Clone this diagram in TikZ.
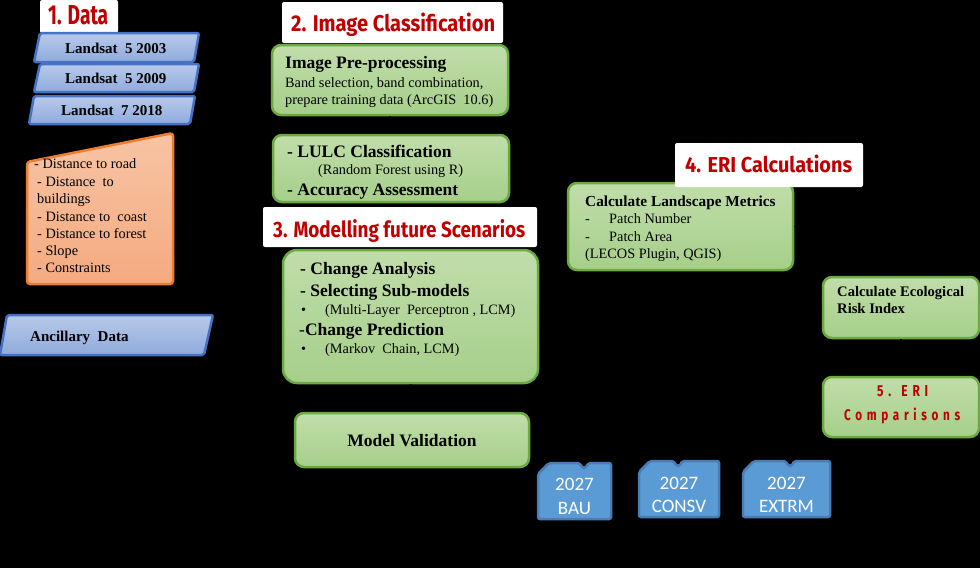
\documentclass[tikz,border=0pt]{standalone}
\usepackage{fontspec}
\setmainfont{Liberation Serif}
\newfontfamily\titlefont{Fira Sans}
\newfontfamily\cardfont{Carlito}
\usetikzlibrary{arrows.meta}
\definecolor{ttlred}{HTML}{C00000}
\definecolor{grfill}{HTML}{A6CF8A}
\definecolor{grtop}{HTML}{C0DDAA}
\definecolor{grline}{HTML}{6AAA40}
\definecolor{blfilltop}{HTML}{B8CAEA}
\definecolor{blfillbot}{HTML}{8FAADC}
\definecolor{blline}{HTML}{4472C4}
\definecolor{orfilltop}{HTML}{F7C4A4}
\definecolor{orfillbot}{HTML}{F4AA80}
\definecolor{orline}{HTML}{ED7D31}
\definecolor{cdfill}{HTML}{5B9BD5}
\definecolor{cdline}{HTML}{4A7DB5}
\newcommand{\ttlfit}[3]{\resizebox{#1pt}{#2pt}{\titlefont\bfseries #3}}
\begin{document}
\begin{tikzpicture}[x=1pt,y=-1pt,
  greenbox/.style={draw=grline, line width=2.5pt, rounded corners=9pt, top color=grtop, bottom color=grfill, inner sep=0pt},
  titlebox/.style={fill=white, rounded corners=2pt, inner sep=0pt},
  ttltext/.style={text=ttlred, inner sep=0pt, anchor=base west},
  bodytext/.style={inner sep=0pt, anchor=base west, font=\fontsize{14.3}{16}\selectfont},
  headtext/.style={inner sep=0pt, anchor=base west, font=\fontsize{17.5}{19}\selectfont\bfseries},
  landsat/.style={draw=blline, line width=2.5pt, rounded corners=2pt, top color=blfilltop, bottom color=blfillbot},
  landtext/.style={inner sep=0pt, anchor=base west, font=\fontsize{15}{17}\selectfont\bfseries},
  ancbox/.style={draw=orline, line width=2.5pt, rounded corners=3pt, top color=orfilltop, bottom color=orfillbot},
  card/.style={draw=cdline, line width=2.5pt, fill=cdfill, rounded corners=2pt},
  cardtext/.style={inner sep=0pt, anchor=base, text=white, font=\cardfont\fontsize{19}{22}\selectfont},
  conn/.style={draw=black, line width=1.5pt, -{Stealth[length=6pt]}}
]
\useasboundingbox (0,0) rectangle (980,568);
\fill[black] (0,0) rectangle (980,568);

% ---------- 1. Data ----------
\node[titlebox, minimum width=78, minimum height=33] (t1box) at (79,16.5) {};
\node[ttltext] (t1) at (48,24) {\ttlfit{60}{19}{1. Data}};

\path[landsat] (40,33) -- (199,33) -- (194,62) -- (34,62) -- cycle;
\node[landtext] (ls1) at (65,53) {Landsat\ \ 5 2003};
\path[landsat] (40,64) -- (199,64) -- (194,92) -- (34,92) -- cycle;
\node[landtext] (ls2) at (65,83) {Landsat\ \ 5 2009};
\path[landsat] (34,96) -- (195,96) -- (190,124) -- (29,124) -- cycle;
\node[landtext] (ls3) at (61,115) {Landsat\ \ 7 2018};

\path[ancbox] (27,162) -- (173,133) -- (173,284) -- (27,284) -- cycle;
\node[bodytext] (o1) at (34,168) {- Distance to road};
\node[bodytext] (o2) at (37,186) {- Distance\ \ to};
\node[bodytext] (o3) at (37,203) {buildings};
\node[bodytext] (o4) at (37,221) {- Distance to\ \ coast};
\node[bodytext] (o5) at (37,238) {- Distance to forest};
\node[bodytext] (o6) at (37,255) {- Slope};
\node[bodytext] (o7) at (37,272) {- Constraints};

\path[landsat] (7,315) -- (213,315) -- (204,355) -- (0,355) -- cycle;
\node[landtext] (anc) at (30,341) {Ancillary\ \ Data};

% ---------- 2. Image Classification ----------
\node[greenbox, minimum width=236, minimum height=70] (pre) at (390,80) {};
\node[headtext] (pre1) at (285,68) {Image Pre-processing};
\node[bodytext] (pre2) at (285,87) {Band selection, band combination,};
\node[bodytext] (pre3) at (285,104) {prepare training data (ArcGIS\ \ 10.6)};

\node[greenbox, minimum width=236, minimum height=67] (lulc) at (391,168.5) {};
\node[headtext] (lulc1) at (287,157) {- LULC Classification};
\node[bodytext] (lulc2) at (318,174) {(Random Forest using R)};
\node[headtext] (lulc3) at (287,195) {- Accuracy Assessment};

\node[titlebox, minimum width=221, minimum height=41] (t2box) at (392.5,22.5) {};
\node[ttltext] (t2) at (291,31) {\ttlfit{204}{18.5}{2. Image Classification}};

% ---------- 3. Modelling ----------
\node[greenbox, minimum width=255, minimum height=133, rounded corners=14pt] (mod) at (410.5,316.5) {};
\node[headtext] (mod1) at (300,274) {- Change Analysis};
\node[headtext] (mod2) at (300,296) {- Selecting Sub-models};
\node[bodytext] (mod3a) at (301,314) {\textbullet};
\node[bodytext] (mod3) at (325,314) {(Multi-Layer\ \ Perceptron , LCM)};
\node[headtext] (mod4) at (299,335) {\mdseries-\bfseries Change Prediction};
\node[bodytext] (mod5a) at (301,353) {\textbullet};
\node[bodytext] (mod5) at (325,353) {(Markov\ \ Chain, LCM)};

\node[greenbox, minimum width=234, minimum height=54] (val) at (412,440) {};
\node[headtext, anchor=base] (val1) at (412,446) {Model Validation};

\node[titlebox, minimum width=274, minimum height=40] (t3box) at (400,227) {};
\node[ttltext] (t3) at (273,237) {\ttlfit{252}{18}{3. Modelling future Scenarios}};

% ---------- 4. ERI ----------
\node[greenbox, minimum width=225, minimum height=87] (met) at (680.5,226.5) {};
\node[headtext, font=\fontsize{15.3}{17}\selectfont\bfseries] (met1) at (585,206) {Calculate Landscape Metrics};
\node[bodytext] (met2a) at (585,223) {-};
\node[bodytext] (met2) at (609,223) {Patch Number};
\node[bodytext] (met3a) at (585,241) {-};
\node[bodytext] (met3) at (609,241) {Patch Area};
\node[bodytext] (met4) at (585,258) {(LECOS Plugin, QGIS)};

\node[titlebox, minimum width=188, minimum height=44] (t4box) at (769,165) {};
\node[ttltext] (t4) at (685,172) {\ttlfit{167}{17.5}{4. ERI Calculations}};

\node[greenbox, minimum width=156, minimum height=61] (eri) at (901,307.5) {};
\node[headtext, font=\fontsize{14.6}{16}\selectfont\bfseries] (eri1) at (837,296) {Calculate Ecological};
\node[headtext, font=\fontsize{14.6}{16}\selectfont\bfseries] (eri2) at (837,313) {Risk Index};

\node[greenbox, minimum width=156, minimum height=60] (comp) at (901,407) {};
\node[ttltext] (comp1) at (877,396) {\ttlfit{51}{11}{\addfontfeature{LetterSpace=40}5. ERI}};
\node[ttltext] (comp2) at (844,420) {\ttlfit{116}{12.5}{\addfontfeature{LetterSpace=40}Comparisons}};

% ---------- scenario cards ----------
\path[card] (538,474) -- (549,463) -- (580,463) -- (582,468) -- (586,468) -- (588,463) -- (611,463) -- (611,519) -- (538,519) -- cycle;
\node[cardtext] (bau1) at (574.5,490) {2027};
\node[cardtext] (bau2) at (574.5,514) {BAU};
\path[card] (639,472) -- (650,461) -- (674,461) -- (676,466) -- (680,466) -- (682,461) -- (719,461) -- (719,517) -- (639,517) -- cycle;
\node[cardtext] (con1) at (679,489) {2027};
\node[cardtext] (con2) at (679,512) {CONSV};
\path[card] (743,472) -- (754,461) -- (786,461) -- (788,466) -- (792,466) -- (794,461) -- (830,461) -- (830,517) -- (743,517) -- cycle;
\node[cardtext] (ext1) at (786.5,489) {2027};
\node[cardtext] (ext2) at (786.5,512) {EXTRM};

% ---------- connectors (black, as in the reference) ----------
\draw[conn] (pre.south) -- (lulc.north);
\draw[conn] (mod.south) -- (val.north);
\draw[conn] (met.east) -| (eri.north);
\draw[conn] (eri.south) -- (comp.north);
\end{tikzpicture}
\end{document}
